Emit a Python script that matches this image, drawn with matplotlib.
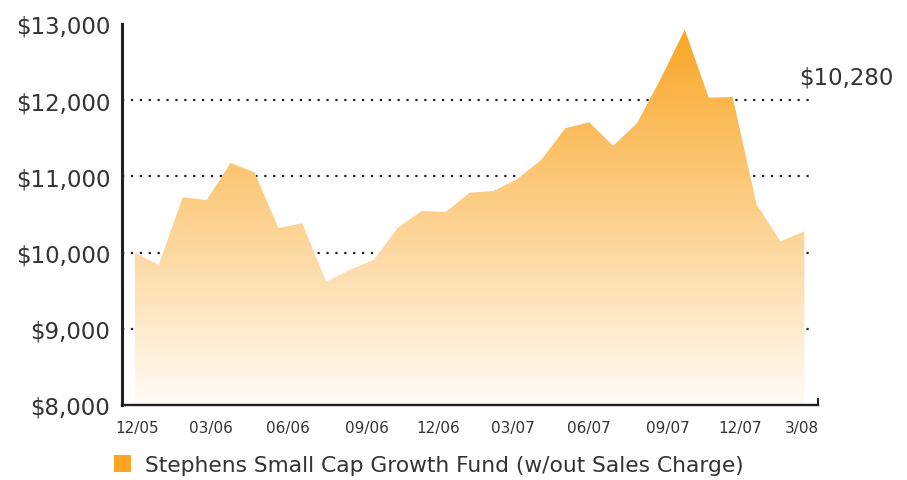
import numpy as np
import matplotlib
matplotlib.use('Agg')
import matplotlib.pyplot as plt
from matplotlib.colors import LinearSegmentedColormap
from matplotlib.patches import Polygon, Patch

# month-end values of a $10,000 investment
values = [10000, 9840, 10726, 10690, 11176, 11054, 10323, 10384, 9618, 9775,
          9907, 10327, 10546, 10533, 10786, 10808, 10966, 11219, 11631, 11710,
          11403, 11697, 12287, 12925, 12033, 12042, 10634, 10148, 10280]
date_labels = ['12/05', '03/06', '06/06', '09/06', '12/06', '03/07', '06/07',
               '09/07', '12/07', '3/08']
date_label_pos = [0.1, 3.2, 6.4, 9.7, 12.7, 15.8, 19.0, 22.3, 25.3, 27.9]
tick_pos = [3.65, 7.75, 12.0, 16.1, 20.25, 24.35, 28.57]
y_ticks = [8000, 9000, 10000, 11000, 12000, 13000]
grid_levels = [9000, 10000, 11000, 12000]
end_label = '$10,280'
legend_label = 'Stephens Small Cap Growth Fund (w/out Sales Charge)'

TEXT = '#333333'
AXIS = '#231F20'
TOP = '#F9A522'
BOTTOM = '#FFFCF7'

x = np.arange(len(values))
xmin, xmax = -0.54, 28.57
ymin, ymax = 8000, 13000

fig = plt.figure(figsize=(9.07, 4.81), dpi=100)
ax = fig.add_axes([122/907, 1-406/481, (818-122)/907, (406-25)/481])

# dotted grid behind the area
for lvl in grid_levels:
    ax.axhline(lvl, xmin=0, xmax=0.993, color='#222222', lw=1.6,
               linestyle=(0, (1, 3)), zorder=1)

# gradient area: vertical gradient image clipped to the area polygon
cmap = LinearSegmentedColormap.from_list('fade', [BOTTOM, TOP])
grad = np.linspace(0, 1, 256).reshape(-1, 1)
im = ax.imshow(grad, cmap=cmap, origin='lower', aspect='auto',
               extent=[xmin, xmax, ymin, ymax], zorder=2,
               interpolation='bilinear')
verts = [(x[0], ymin)] + list(zip(x, values)) + [(x[-1], ymin)]
poly = Polygon(verts, closed=True, facecolor='none', edgecolor='none',
               transform=ax.transData)
ax.add_patch(poly)
im.set_clip_path(poly)
ax.set_xlim(xmin, xmax)
ax.set_ylim(ymin, ymax)

# spines
for s in ['top', 'right']:
    ax.spines[s].set_visible(False)
ax.spines['left'].set_linewidth(2.2)
ax.spines['left'].set_color(AXIS)
ax.spines['bottom'].set_linewidth(1.7)
ax.spines['bottom'].set_color(AXIS)

# y axis
ax.set_yticks(y_ticks)
ax.set_yticklabels(['${:,}'.format(v) for v in y_ticks])
ax.tick_params(axis='y', length=0, pad=8.5, labelsize=16.5, labelcolor=TEXT)

# x axis: tick marks and date labels are placed independently
ax.set_xticks(tick_pos)
ax.set_xticklabels([])
ax.tick_params(axis='x', which='major', direction='in', length=5, width=1.5,
               color=AXIS)
ax.set_xticks(date_label_pos, minor=True)
ax.set_xticklabels(date_labels, minor=True)
ax.tick_params(axis='x', which='minor', length=0, pad=11, labelsize=11,
               labelcolor=TEXT)

ax.text(1.04, 0.862, end_label, transform=ax.transAxes, ha='center',
        va='center', fontsize=16.5, color=TEXT, clip_on=False)

fig.legend(handles=[Patch(facecolor=TOP, edgecolor='none')],
           labels=[legend_label], loc='center left',
           bbox_to_anchor=(114/907, 1-466/481), frameon=False,
           fontsize=15.7, labelcolor=TEXT, handlelength=0.8,
           handleheight=0.8, handletextpad=0.6, borderpad=0,
           borderaxespad=0)

fig.savefig('out.png', dpi=100, facecolor='white')
